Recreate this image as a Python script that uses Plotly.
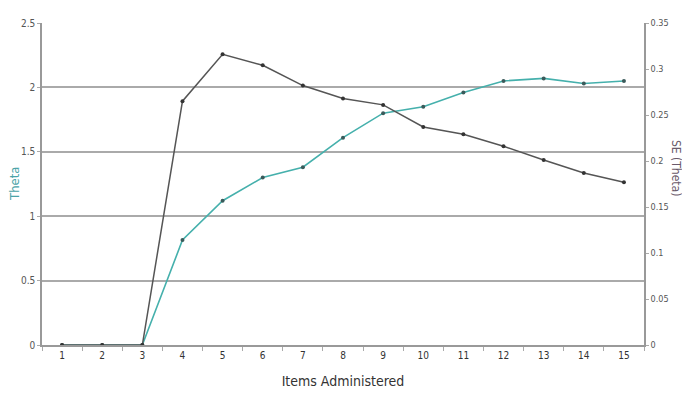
import plotly.graph_objects as go

items = [str(i) for i in range(1, 16)]
theta = [0, 0, 0, 0.815, 1.12, 1.30, 1.38, 1.61, 1.80, 1.85, 1.96, 2.05, 2.07, 2.03, 2.05]
se_theta = [0, 0, 0, 0.265, 0.316, 0.304, 0.282, 0.268, 0.261, 0.237, 0.229, 0.216, 0.201, 0.187, 0.177]

y_ticks = [0, 0.5, 1, 1.5, 2, 2.5]
y_ticklabels = ["0", "0.5", "1", "1.5", "2", "2.5"]
y2_ticks = [0, 0.05, 0.1, 0.15, 0.2, 0.25, 0.3, 0.35]
y2_ticklabels = ["0", "0.05", "0.1", "0.15", "0.2", "0.25", "0.3", "0.35"]

FONT = "Liberation Sans Narrow, DejaVu Sans Condensed, Arial Narrow, Roboto Condensed, Roboto, sans-serif"

fig = go.Figure()
fig.add_trace(go.Scatter(
    x=items, y=theta, mode="lines+markers", name="Theta",
    line=dict(color="#45b0ac", width=1.6),
    marker=dict(size=4, color="#3a5a5a"), yaxis="y"))
fig.add_trace(go.Scatter(
    x=items, y=se_theta, mode="lines+markers", name="SE (Theta)",
    line=dict(color="#555555", width=1.5),
    marker=dict(size=4, color="#333333"), yaxis="y2"))

fig.update_layout(
    width=682, height=393,
    margin=dict(l=42, r=38, t=23, b=48),
    paper_bgcolor="white", plot_bgcolor="white",
    showlegend=False,
    font=dict(family=FONT, size=10, color="#444444"),
    xaxis=dict(
        type="category", range=[-0.5, 14.5], automargin=False,
        showgrid=False, showline=True, linecolor="#999999", linewidth=1.5,
        ticks="outside", tickson="boundaries", ticklen=4, tickcolor="#aaaaaa",
        tickfont=dict(size=10, color="#333333"),
        title=dict(text="Items Administered", font=dict(size=14, color="#333333"), standoff=16),
    ),
    yaxis=dict(
        range=[0, 2.5], tickvals=y_ticks, ticktext=y_ticklabels, automargin=False,
        showgrid=True, gridcolor="#aaaaaa", gridwidth=2,
        showline=True, linecolor="#999999", linewidth=1.5,
        ticks="outside", ticklen=3, tickcolor="#aaaaaa",
        zeroline=False,
        tickfont=dict(size=10, color="#555555"),
    ),
    yaxis2=dict(
        range=[0, 0.35], tickvals=y2_ticks, ticktext=y2_ticklabels, automargin=False,
        overlaying="y", side="right", showgrid=False,
        showline=True, linecolor="#999999", linewidth=1.5,
        ticks="outside", ticklen=3, tickcolor="#aaaaaa",
        zeroline=False,
        tickfont=dict(size=9, color="#555555"),
    ),
    annotations=[
        dict(text="Theta", textangle=-90, xref="paper", yref="paper",
             x=0.0, y=0.5, xanchor="center", yanchor="middle", xshift=-28,
             showarrow=False, font=dict(size=13, color="#4aa3a8", family=FONT)),
        dict(text="SE (Theta)", textangle=90, xref="paper", yref="paper",
             x=1.0, y=0.55, xanchor="left", yanchor="middle", xshift=23,
             showarrow=False, font=dict(size=12, color="#6a5a6a", family=FONT)),
    ],
)

fig.write_html("out.html", config={"displayModeBar": False},
               post_script="document.body.style.margin='0';document.body.style.overflow='hidden';")
